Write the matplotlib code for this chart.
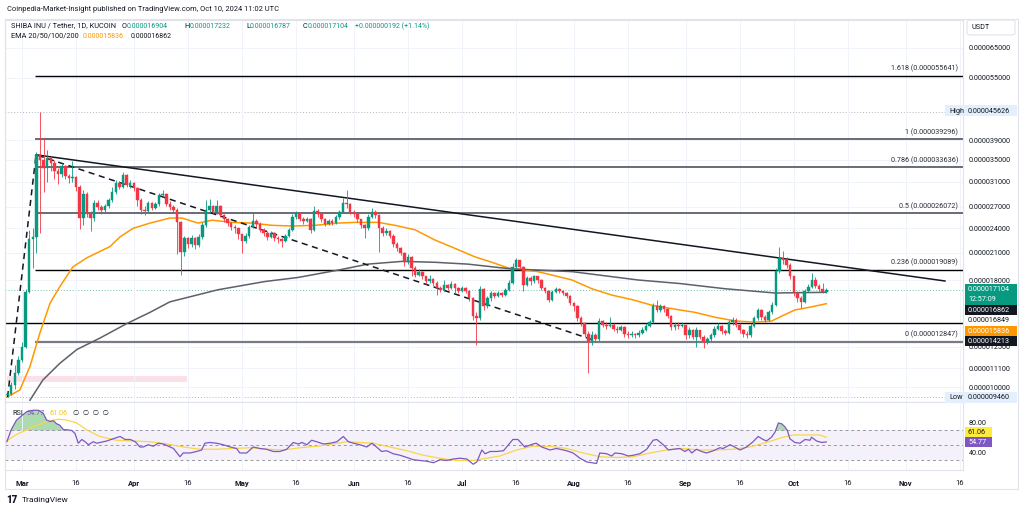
import numpy as np
import pandas as pd
import matplotlib
matplotlib.use("Agg")
import matplotlib.pyplot as plt
import matplotlib.dates as mdates
from matplotlib.patches import Rectangle, FancyBboxPatch
from matplotlib.ticker import NullLocator

plt.rcParams['font.family'] = ['Roboto', 'DejaVu Sans']

GREEN = '#089981'
RED = '#f23645'
DARK = '#131722'
ORANGE = '#ff9800'
PURPLE = '#7e57c2'

# prices are in millionths of USDT (1.0 == 0.000001)
first_open = 9.55
close = [
    9.62, 10.1, 10.8, 11.6,
    12.5, 16.9, 22.6, 22.9, 36.0, 35.0, 33.5, 35.3, 34.5, 33.0,
    32.4, 33.8, 32.1, 31.6, 31.9, 30.2, 25.4, 29.0, 26.0, 25.4,
    27.6, 27.0, 26.6, 27.1, 28.0, 29.3, 30.8, 30.2, 32.2, 30.5,
    30.8, 30.0, 28.0, 26.6, 26.4, 27.6, 26.9, 27.4, 28.9, 29.0,
    27.5, 27.0, 26.6, 24.8, 21.1, 22.7, 22.0, 22.8, 21.9, 22.9,
    24.5, 26.6, 27.1, 26.2, 27.2, 25.8, 25.2, 24.7, 24.2, 24.0,
    23.2, 22.4, 23.0, 24.2, 25.0, 24.6, 23.8, 23.4, 22.9, 23.4,
    22.8, 22.6, 22.4, 23.0, 23.8, 25.6, 26.0, 25.3, 25.0, 25.3,
    23.8, 26.4, 26.0, 25.2, 24.6, 25.0, 24.7, 25.5, 26.3, 27.6,
    27.4, 26.2, 25.9, 25.2, 24.4, 24.0, 25.6, 26.2, 25.8, 24.0,
    23.4, 23.7, 23.0, 22.0, 21.5, 21.0, 19.9, 20.5, 19.3, 18.6,
    18.9, 18.4, 17.9, 18.1, 17.8, 17.3, 17.1, 17.6, 17.3, 17.7,
    17.3, 17.0, 17.3, 17.0, 16.3, 14.8, 14.6, 17.2, 15.6, 16.3,
    16.8, 16.5, 16.8, 16.6, 17.1, 17.8, 19.4, 20.2, 19.4, 17.6,
    18.2, 17.9, 18.4, 18.0, 17.3, 17.0, 16.2, 16.9, 17.2, 17.0,
    16.8, 16.5, 15.9, 15.6, 14.6, 14.2, 13.4, 12.9, 13.3, 13.0,
    14.4, 14.1, 14.0, 14.1, 13.8, 13.7, 13.9, 13.4, 13.3, 13.4,
    13.3, 13.5, 13.7, 14.0, 14.3, 15.6, 15.3, 15.6, 15.4, 14.8,
    13.9, 14.1, 14.0, 14.1, 13.3, 13.7, 13.2, 13.7, 13.2, 12.8,
    13.0, 13.3, 13.8, 14.0, 13.6, 13.5, 14.3, 14.5, 14.1, 13.7,
    13.4, 13.3, 14.0, 14.6, 15.3, 14.7, 14.5, 15.1, 15.7, 19.0,
    20.4, 20.1, 19.6, 18.4, 16.8, 16.3, 16.0, 17.0, 17.4, 18.0,
    17.5, 17.2, 16.904, 17.104,
]
high = [
    9.75, 10.3, 11.3, 11.9,
    12.8, 17.2, 23.8, 24.0, 36.5, 45.626, 39.5, 37.0, 35.8, 35.0,
    33.5, 34.5, 34.0, 32.4, 34.8, 32.0, 30.4, 29.6, 29.3, 26.4,
    28.0, 28.0, 27.3, 27.5, 28.3, 30.2, 31.3, 31.2, 32.8, 32.4,
    31.3, 31.0, 30.2, 28.3, 27.2, 27.9, 27.8, 27.8, 29.2, 29.6,
    29.2, 27.9, 27.3, 26.9, 25.0, 23.0, 22.9, 23.1, 22.9, 23.2,
    24.9, 28.0, 28.2, 27.3, 28.0, 27.3, 26.0, 25.4, 24.9, 24.5,
    24.1, 23.3, 23.4, 24.4, 26.2, 25.3, 24.8, 24.0, 23.6, 23.7,
    23.5, 23.0, 22.8, 23.2, 24.0, 25.9, 26.4, 26.2, 25.5, 25.6,
    25.4, 27.2, 26.7, 26.2, 25.4, 25.3, 25.2, 25.8, 26.6, 28.4,
    29.7, 27.6, 26.5, 26.1, 25.3, 24.6, 25.9, 26.8, 26.6, 25.9,
    24.3, 24.0, 23.8, 23.2, 22.2, 21.7, 21.1, 20.8, 20.6, 19.5,
    19.2, 19.0, 18.5, 18.6, 18.2, 17.9, 17.5, 18.0, 17.7, 17.9,
    17.8, 17.4, 17.5, 17.4, 17.1, 16.4, 15.1, 17.5, 17.3, 16.5,
    17.0, 16.9, 17.0, 16.9, 17.3, 18.0, 19.8, 20.4, 20.1, 19.5,
    18.5, 18.4, 18.6, 18.5, 18.1, 17.4, 17.1, 17.1, 17.4, 17.3,
    17.1, 16.9, 16.6, 16.0, 15.7, 14.8, 14.3, 13.6, 13.6, 13.5,
    14.6, 14.5, 14.3, 14.7, 14.2, 14.0, 14.1, 14.0, 13.6, 13.6,
    13.5, 13.7, 13.9, 14.2, 14.5, 15.9, 16.2, 15.8, 15.7, 15.5,
    14.9, 14.3, 14.3, 14.3, 14.1, 13.9, 13.8, 13.9, 13.7, 13.3,
    13.2, 13.5, 14.0, 14.2, 14.1, 13.8, 14.5, 14.7, 14.6, 14.2,
    13.8, 13.6, 14.2, 14.8, 15.5, 15.4, 14.9, 15.3, 16.0, 19.3,
    21.6, 21.2, 20.5, 19.8, 18.5, 17.0, 16.5, 17.2, 17.7, 18.8,
    18.3, 17.7, 17.8, 17.232,
]
low = [
    9.46, 9.55, 9.9, 10.7,
    11.5, 12.4, 16.8, 19.3, 21.0, 23.4, 29.4, 31.0, 33.0, 31.5,
    30.6, 31.8, 31.5, 30.8, 31.0, 29.5, 23.9, 24.5, 25.5, 23.6,
    25.0, 26.5, 26.0, 26.3, 26.9, 27.8, 29.0, 29.8, 30.0, 30.2,
    30.0, 29.5, 27.2, 26.0, 25.8, 26.2, 26.6, 26.7, 27.2, 28.5,
    27.2, 26.5, 26.2, 20.8, 18.6, 20.6, 21.5, 21.7, 21.4, 21.7,
    22.6, 24.2, 26.3, 25.9, 26.0, 25.5, 24.8, 24.3, 23.8, 23.4,
    22.6, 21.0, 22.1, 22.8, 24.0, 24.2, 23.5, 23.0, 22.5, 22.7,
    22.4, 22.1, 21.6, 22.2, 22.9, 23.7, 25.3, 25.0, 24.6, 24.8,
    23.4, 23.7, 25.6, 24.9, 24.3, 24.4, 24.4, 24.6, 25.3, 26.1,
    26.8, 25.9, 25.5, 24.9, 24.1, 22.7, 23.8, 25.4, 25.4, 21.1,
    23.0, 23.1, 22.7, 21.7, 21.2, 20.7, 19.5, 19.7, 18.5, 18.3,
    18.4, 18.1, 17.7, 17.8, 17.5, 16.6, 16.9, 17.0, 17.1, 17.2,
    16.8, 16.8, 16.9, 16.8, 16.1, 14.5, 12.6, 14.5, 15.3, 15.5,
    16.1, 16.3, 16.4, 16.4, 16.5, 17.0, 17.7, 19.2, 19.2, 17.0,
    17.5, 17.6, 17.8, 17.8, 17.1, 16.8, 16.0, 16.1, 16.8, 16.8,
    16.6, 16.3, 15.7, 15.2, 14.4, 14.0, 13.2, 10.8, 12.6, 12.8,
    12.9, 13.9, 13.8, 13.9, 13.6, 13.5, 13.6, 13.2, 13.1, 13.2,
    13.1, 13.2, 13.4, 13.6, 13.9, 14.2, 15.1, 15.1, 15.1, 14.6,
    13.7, 13.7, 13.8, 13.9, 13.0, 13.1, 13.0, 12.5, 13.0, 12.4,
    12.7, 12.9, 13.2, 13.7, 13.4, 13.3, 13.4, 14.1, 13.9, 13.5,
    13.2, 13.1, 13.2, 13.9, 14.5, 14.5, 14.3, 14.4, 15.0, 15.6,
    18.8, 19.7, 19.3, 18.1, 16.5, 16.0, 15.5, 15.9, 16.9, 17.3,
    17.3, 17.0, 16.8, 16.787,
]

# EMA lines (day offset from 2024-03-01, price)
ema_fast_day = [-4.2, -0.6, 2.2, 5.0, 7.8, 10.5, 14.1, 18.0, 24.4, 27.2, 30.8, 35.5,
                41.0, 44.4, 48.8, 52.7, 58.2, 63.8, 69.3, 74.9, 81.2, 87.6, 92.3,
                98.7, 103.4, 109.0, 114.5, 120.0, 125.6, 130.3, 134.7, 143.0, 152.5,
                158.0, 163.6, 169.1, 174.7, 182.4, 186.6, 192.1, 197.7, 203.2, 207.9,
                210.7, 214.3, 217.9, 223.0]
ema_fast_val = [9.46, 9.84, 11.2, 13.5, 15.9, 17.4, 19.4, 20.4, 21.7, 22.9, 24.0, 24.7,
                25.4, 25.4, 24.7, 25.1, 24.8, 24.7, 24.4, 24.3, 24.4, 24.7, 24.8,
                24.8, 24.4, 23.8, 22.5, 21.5, 20.5, 19.9, 19.3, 18.9, 18.05,
                17.2, 16.6, 16.2, 15.7, 15.3, 15.1, 14.7, 14.4, 14.3, 14.4,
                14.8, 15.3, 15.5, 15.836]
ema_slow_day = [2.2, 5.8, 10.5, 15.2, 21.6, 29.1, 35.5, 41.0, 54.3, 67.4, 76.5, 88.2,
                95.9, 105.4, 114.5, 123.6, 135.3, 152.5, 170.8, 182.4, 194.9, 208.8, 223.0]
ema_slow_val = [9.3, 10.4, 11.4, 12.3, 13.1, 14.2, 15.1, 16.0, 17.1, 17.9, 18.3, 19.1,
                19.7, 20.0, 19.9, 19.7, 19.2, 18.9, 18.05, 17.7, 17.2, 16.8, 16.862]

fib_names = ['0', '0.236', '0.5', '0.786', '1', '1.618']
fib_prices = [12.847, 19.089, 26.072, 33.636, 39.296, 55.641]
fib_colors = ['#787b86', 'black', '#5d606b', '#5d606b', '#5d606b', 'black']
fib_widths = [1.6, 1.0, 1.3, 1.3, 1.3, 1.0]
hline_price = 14.213
price_ticks = [65, 55, 39, 35, 31, 27, 24, 21, 18, 12.5, 11.1, 10.0]

rsi_day = [-4.2, -2.9, -1.5, 0.0, 1.3, 3.1, 4.5, 5.9, 6.8, 7.8,
           8.7, 9.6, 10.5, 11.5, 12.4, 13.8, 14.7, 15.6, 16.6, 17.5,
           18.4, 19.8, 20.7, 21.6, 23.5, 25.3, 27.2, 28.6, 30.0, 31.4,
           32.7, 33.6, 35.0, 36.4, 37.8, 39.2, 40.6, 42.0, 43.8, 44.7,
           46.6, 48.4, 49.8, 50.7, 52.1, 54.0, 55.8, 57.7, 59.5, 60.4,
           62.3, 64.1, 66.0, 67.8, 69.7, 71.5, 73.4, 75.2, 76.6, 77.6,
           79.0, 80.3, 81.7, 83.6, 85.4, 87.3, 89.1, 90.5, 91.9, 93.7,
           95.6, 97.0, 98.3, 99.7, 101.1, 102.9, 104.8, 106.7, 108.5, 110.3,
           112.2, 114.1, 115.9, 117.7, 119.6, 121.4, 123.3, 125.1, 126.1, 127.5,
           128.4, 129.8, 131.6, 133.5, 136.1, 137.5, 139.4, 141.7, 142.6, 144.1,
           146.4, 148.2, 151.0, 152.8, 154.7, 156.6, 157.9, 159.3, 160.2, 162.1,
           163.5, 164.4, 166.3, 168.1, 169.5, 171.3, 173.2, 175.0, 176.0, 177.8,
           179.2, 180.6, 182.4, 183.8, 184.8, 185.7, 187.0, 188.4, 189.8, 191.7,
           193.5, 194.4, 196.3, 197.2, 199.1, 200.9, 202.7, 204.1, 205.5, 206.4,
           207.8, 208.8, 209.7, 210.6, 211.5, 212.2, 212.9, 214.3, 215.7, 217.1,
           218.5, 218.9, 220.3, 221.7, 223.0]
rsi_val = [55, 72, 84, 90, 95, 97, 97, 93, 84, 82,
           83, 79, 77, 71, 71, 70, 66, 53, 58, 55,
           51, 55, 53, 54, 56, 59, 62, 58, 58, 55,
           48, 48, 51, 49, 53, 52, 49, 46, 35, 40,
           40, 42, 44, 53, 54, 53, 51, 48, 46, 40,
           40, 48, 46, 45, 42, 42, 45, 54, 52, 54,
           51, 57, 55, 52, 53, 55, 62, 55, 53, 51,
           48, 53, 48, 42, 43, 39, 37, 34, 31, 30,
           29, 27, 31, 30, 32, 33, 32, 25, 28, 44,
           39, 42, 42, 43, 58, 58, 48, 52, 53, 48,
           44, 46, 43, 40, 33, 28, 27, 26, 40, 39,
           36, 40, 39, 36, 37, 39, 45, 57, 58, 51,
           44, 45, 46, 42, 45, 40, 45, 42, 40, 43,
           47, 46, 51, 49, 44, 48, 55, 62, 58, 56,
           61, 68, 80, 79, 75, 70, 59, 54, 53, 58,
           57, 61, 56, 54, 54.77]
rsi_ma_day = [-4.2, -1.8, 3.1, 6.8, 10.1, 12.4, 15.2, 17.9, 21.6, 26.2,
              30.9, 35.5, 40.1, 44.7, 49.3, 54.0, 58.6, 63.2, 67.8, 72.5,
              77.1, 81.7, 86.3, 90.0, 93.7, 97.4, 102.0, 106.7, 111.3, 115.9,
              120.5, 125.1, 128.8, 132.5, 137.1, 141.7, 146.4, 151.0, 155.6, 160.2,
              164.9, 169.5, 174.1, 178.7, 183.3, 187.9, 192.5, 197.2, 201.8, 206.4,
              211.0, 213.8, 217.5, 221.2, 223.0]
rsi_ma_val = [56, 64, 75, 82, 85, 84, 80, 71, 62, 57,
              56, 55, 52, 48, 45, 45, 46, 47, 45, 44,
              47, 49, 52, 55, 54, 53, 48, 43, 37, 33,
              30, 30, 33, 36, 44, 49, 49, 46, 40, 35,
              34, 35, 40, 44, 46, 44, 44, 45, 48, 54,
              61, 64, 64, 64, 61.06]

tick_dates = ['2024-03-01', '2024-03-16', '2024-04-01', '2024-04-16', '2024-05-01',
              '2024-05-16', '2024-06-01', '2024-06-16', '2024-07-01', '2024-07-16',
              '2024-08-01', '2024-08-16', '2024-09-01', '2024-09-16', '2024-10-01',
              '2024-10-16', '2024-11-01', '2024-11-16']
tick_labels = ['Mar', '16', 'Apr', '16', 'May', '16', 'Jun', '16', 'Jul', '16',
               'Aug', '16', 'Sep', '16', 'Oct', '16', 'Nov', '16']

W, H = 1024, 511
fig = plt.figure(figsize=(W / 100, H / 100), dpi=100)
fig.patch.set_facecolor('white')


def fx(x):
    return x / W


def fy(y):
    return 1 - y / H


ax = fig.add_axes([fx(5), fy(402), fx(963) - fx(5), fy(20) - fy(402)])
ar = fig.add_axes([fx(5), fy(470), fx(963) - fx(5), fy(402) - fy(470)], sharex=ax)

x0 = mdates.date2num(pd.Timestamp('2024-03-01'))
dates = pd.date_range('2024-02-26', periods=len(close), freq='D')
x = mdates.date2num(dates)
c = np.array(close)
o = np.r_[first_open, c[:-1]]
o[-1] = 16.904
hi = np.array(high)
lo = np.array(low)
cols = np.where(c >= o, GREEN, RED)

# candles
ax.vlines(x, lo, hi, colors=cols, lw=0.6, zorder=4)
ax.bar(x, np.abs(c - o), bottom=np.minimum(o, c), width=0.7, color=cols,
       edgecolor=cols, lw=0.3, zorder=5)

# emas
ax.plot(x0 + np.array(ema_fast_day), ema_fast_val, color=ORANGE, lw=1.1, zorder=3)
ax.plot(x0 + np.array(ema_slow_day), ema_slow_val, color='#5d606b', lw=1.1, zorder=3)

# fib levels
for name, p, col, lw in zip(fib_names, fib_prices, fib_colors, fib_widths):
    ax.hlines(p, x0 + 3.6, x0 + 262, color=col, lw=lw, zorder=2)
    ax.annotate(f"{name} ({p / 1e6:.9f})", xy=(x0 + 259.5, p), xytext=(0, 2.2),
                textcoords='offset points', ha='right', va='bottom',
                fontsize=5.2, color='#2a2e39', zorder=6)
ax.axhline(hline_price, color='black', lw=1.0, zorder=2)

# trend lines
ax.plot([x0 + 3.9, x0 + 255.9], [36.0, 17.95], color='#131722', lw=1.1, zorder=3)
ax.plot([x0 - 4.0, x0 + 3.9, x0 + 158.0], [9.46, 36.0, 13.0], color='#131722',
        lw=1.1, ls=(0, (4, 3)), zorder=3)

# high / low / last price
ax.axhline(45.626, color='#b2b5be', lw=0.7, ls=(0, (1, 2)), zorder=1)
ax.axhline(9.46, color='#b2b5be', lw=0.7, ls=(0, (1, 2)), zorder=1)
ax.axhline(17.104, color=GREEN, lw=0.7, ls=(0, (1, 2)), alpha=0.6, zorder=1)

ax.add_patch(Rectangle((x0 - 4.2, 10.28), 49.9, 0.35, fc='#f8bbd0', alpha=0.45,
                       ec='none', zorder=1))

ax.set_yscale('log')
ax.set_ylim(9.21, 75.7)
ax.set_xlim(x0 - 4.71, x0 + 260.9)
ax.yaxis.tick_right()
ax.set_yticks(price_ticks)
ax.set_yticklabels([f"{t / 1e6:.9f}" for t in price_ticks])
ax.yaxis.set_minor_locator(NullLocator())
ax.tick_params(axis='y', length=0, pad=4, labelsize=5.2, colors=DARK)
ax.tick_params(axis='x', length=0, labelbottom=False)
ax.grid(True, color='#f0f3fa', lw=0.7, zorder=0)

# rsi pane
ar.axhspan(30, 70, color=PURPLE, alpha=0.08, lw=0)
for lv in (70, 50, 30):
    ar.axhline(lv, color='#9598a1', lw=0.7, ls=(0, (3, 3)))
rx = x0 + np.array(rsi_day)
rv = np.array(rsi_val, dtype=float)
ar.fill_between(rx, rv, 70, where=rv >= 70, interpolate=True, color='#4caf50',
                alpha=0.45, lw=0)
ar.plot(x0 + np.array(rsi_ma_day), rsi_ma_val, color='#f9d648', lw=0.9)
ar.plot(rx, rv, color=PURPLE, lw=0.9)
ar.set_ylim(17.3, 108)
ar.yaxis.tick_right()
ar.set_yticks([80, 40])
ar.set_yticklabels(['80.00', '40.00'])
ar.tick_params(axis='y', length=0, pad=4, labelsize=5.2, colors=DARK)
ar.set_xticks(mdates.date2num(pd.to_datetime(tick_dates)))
ar.set_xticklabels(tick_labels)
ar.tick_params(axis='x', length=0, pad=7, labelsize=5.5, colors=DARK)
for lab in ar.get_xticklabels():
    if lab.get_text() != '16':
        lab.set_fontweight('bold')
ar.grid(True, axis='x', color='#f0f3fa', lw=0.7)

for a in (ax, ar):
    for s in a.spines.values():
        s.set_color('#e0e3eb')
        s.set_linewidth(0.8)

# outer frame
fig.add_artist(Rectangle((fx(5), fy(489)), fx(1018) - fx(5), fy(19) - fy(489),
                         fc='none', ec='#e0e3eb', lw=0.8))

renderer = fig.canvas.get_renderer()


def chain(xp, yp, parts, size=5.3):
    for s, col, sz in parts:
        t = fig.text(fx(xp), fy(yp), s, color=col, fontsize=sz or size, va='center', ha='left')
        xp += t.get_window_extent(renderer).width
    return xp


def box(x_a, y_a, x_b, y_b, fc):
    fig.add_artist(Rectangle((fx(x_a), fy(y_b)), fx(x_b) - fx(x_a), fy(y_a) - fy(y_b),
                             fc=fc, ec='none', zorder=5))


def label(yp, s, col, xp=968, size=5.2):
    fig.text(fx(xp), fy(yp), s, color=col, fontsize=size, va='center', ha='left', zorder=6)


NUM = 5.0
# header
fig.text(fx(7), fy(9.5), "Coinpedia-Market-Insight published on TradingView.com, Oct 10, 2024 11:02 UTC",
         fontsize=5.4, color=DARK, va='center')
chain(11, 26, [("SHIBA INU / Tether, 1D, KUCOIN", DARK, None)])
chain(122, 26, [("O", DARK, None), ("0.000016904", GREEN, NUM)])
chain(184, 26, [("H", DARK, None), ("0.000017232", GREEN, NUM)])
chain(246, 26, [("L", DARK, None), ("0.000016787", GREEN, NUM)])
chain(303, 26, [("C", DARK, None), ("0.000017104", GREEN, NUM)])
chain(355, 26, [("+0.000000192 (+1.14%)", GREEN, NUM)])
chain(11, 36, [("EMA 20/50/100/200", DARK, None)])
chain(83, 36, [("0.000015836", ORANGE, NUM)])
chain(131, 36, [("0.000016862", DARK, NUM)])
chain(12, 413, [("RSI", DARK, 5.2)])
chain(26, 413, [("54.77", PURPLE, 5.2)])
chain(49, 413, [("61.06", '#f5c518', 5.2)])
chain(73, 413, [("\u2205  \u2205  \u2205  \u2205", DARK, 5.2)])

# price scale boxes
fig.add_artist(FancyBboxPatch((fx(967), fy(35)), fx(1015) - fx(967), fy(20) - fy(35),
                              boxstyle='round,pad=0,rounding_size=0.004',
                              fc='white', ec='#e0e3eb', lw=0.8, zorder=5))
label(27.5, "USDT", DARK, xp=972)
box(945, 105.5, 1017, 116.5, '#e3effd')
label(111, "High", DARK, xp=949)
label(111, "0.000045626", DARK)
box(945, 391.5, 1017, 402.5, '#e3effd')
label(397, "Low", DARK, xp=949)
label(397, "0.000009460", DARK)
box(965, 284, 1017, 305, GREEN)
label(289.5, "0.000017104", 'white')
label(299, "12:57:09", 'white')
box(965, 305, 1017, 315, DARK)
label(310, "0.000016862", 'white')
label(320.5, "0.000016849", DARK)
box(965, 326, 1017, 336, ORANGE)
label(331, "0.000015836", 'white')
box(965, 336, 1017, 346, DARK)
label(341, "0.000014213", 'white')
box(965, 427, 992, 437, '#ffeb3b')
label(432, "61.06", DARK)
box(965, 437, 992, 447, PURPLE)
label(442, "54.77", 'white')

# footer logo
fig.text(fx(6), fy(500), "17", fontsize=7, fontweight='heavy', color=DARK, va='center')
fig.text(fx(22), fy(500), "TradingView", fontsize=6, color=DARK, va='center')

fig.savefig('out.png', dpi=100)
